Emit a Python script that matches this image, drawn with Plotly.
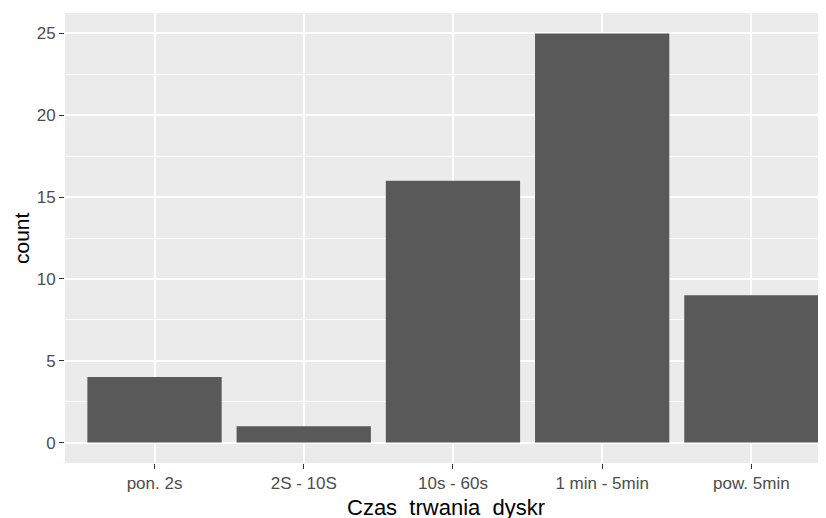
import plotly.graph_objects as go

categories = ["pon. 2s", "2S - 10S", "10s - 60s", "1 min - 5min", "pow. 5min"]
counts = [4, 1, 16, 25, 9]
y_ticks = [0, 5, 10, 15, 20, 25]

fig = go.Figure(go.Bar(x=categories, y=counts, marker=dict(color="#595959", line=dict(width=0)), width=0.9))

fig.update_layout(
    width=818, height=510,
    margin=dict(l=57, r=0, t=5, b=55),
    paper_bgcolor="white", plot_bgcolor="#EBEBEB",
    font=dict(family="Liberation Sans, Arial, sans-serif", color="#4D4D4D", size=17),
    showlegend=False,
    bargap=0.1,
)
fig.update_xaxes(
    range=[-0.6, 4.5], showgrid=True, gridcolor="white", gridwidth=1.5,
    ticks="outside", ticklen=5, tickcolor="#333333", tickwidth=1.4,
    zeroline=False, showline=False, automargin=False,
    tickfont=dict(size=17, color="#4D4D4D"),
)
fig.update_yaxes(
    range=[-1.25, 26.25], tickvals=y_ticks, showgrid=True, gridcolor="white", gridwidth=1.5,
    minor=dict(showgrid=True, gridcolor="white", gridwidth=0.8, dtick=2.5, tick0=2.5),
    ticks="outside", ticklen=5, tickcolor="#333333", tickwidth=1.4,
    zeroline=False, showline=False, automargin=False,
    tickfont=dict(size=17, color="#4D4D4D"),
)
fig.add_annotation(text="Czas_trwania_dyskr", xref="paper", yref="paper", x=0.5, y=0,
                   yanchor="middle", yshift=-44, showarrow=False,
                   font=dict(size=22, color="black"))
fig.add_annotation(text="count", xref="paper", yref="paper", x=0, y=0.5,
                   xanchor="center", xshift=-44, textangle=-90, showarrow=False,
                   font=dict(size=21, color="black"))

fig.write_html("out.html")
